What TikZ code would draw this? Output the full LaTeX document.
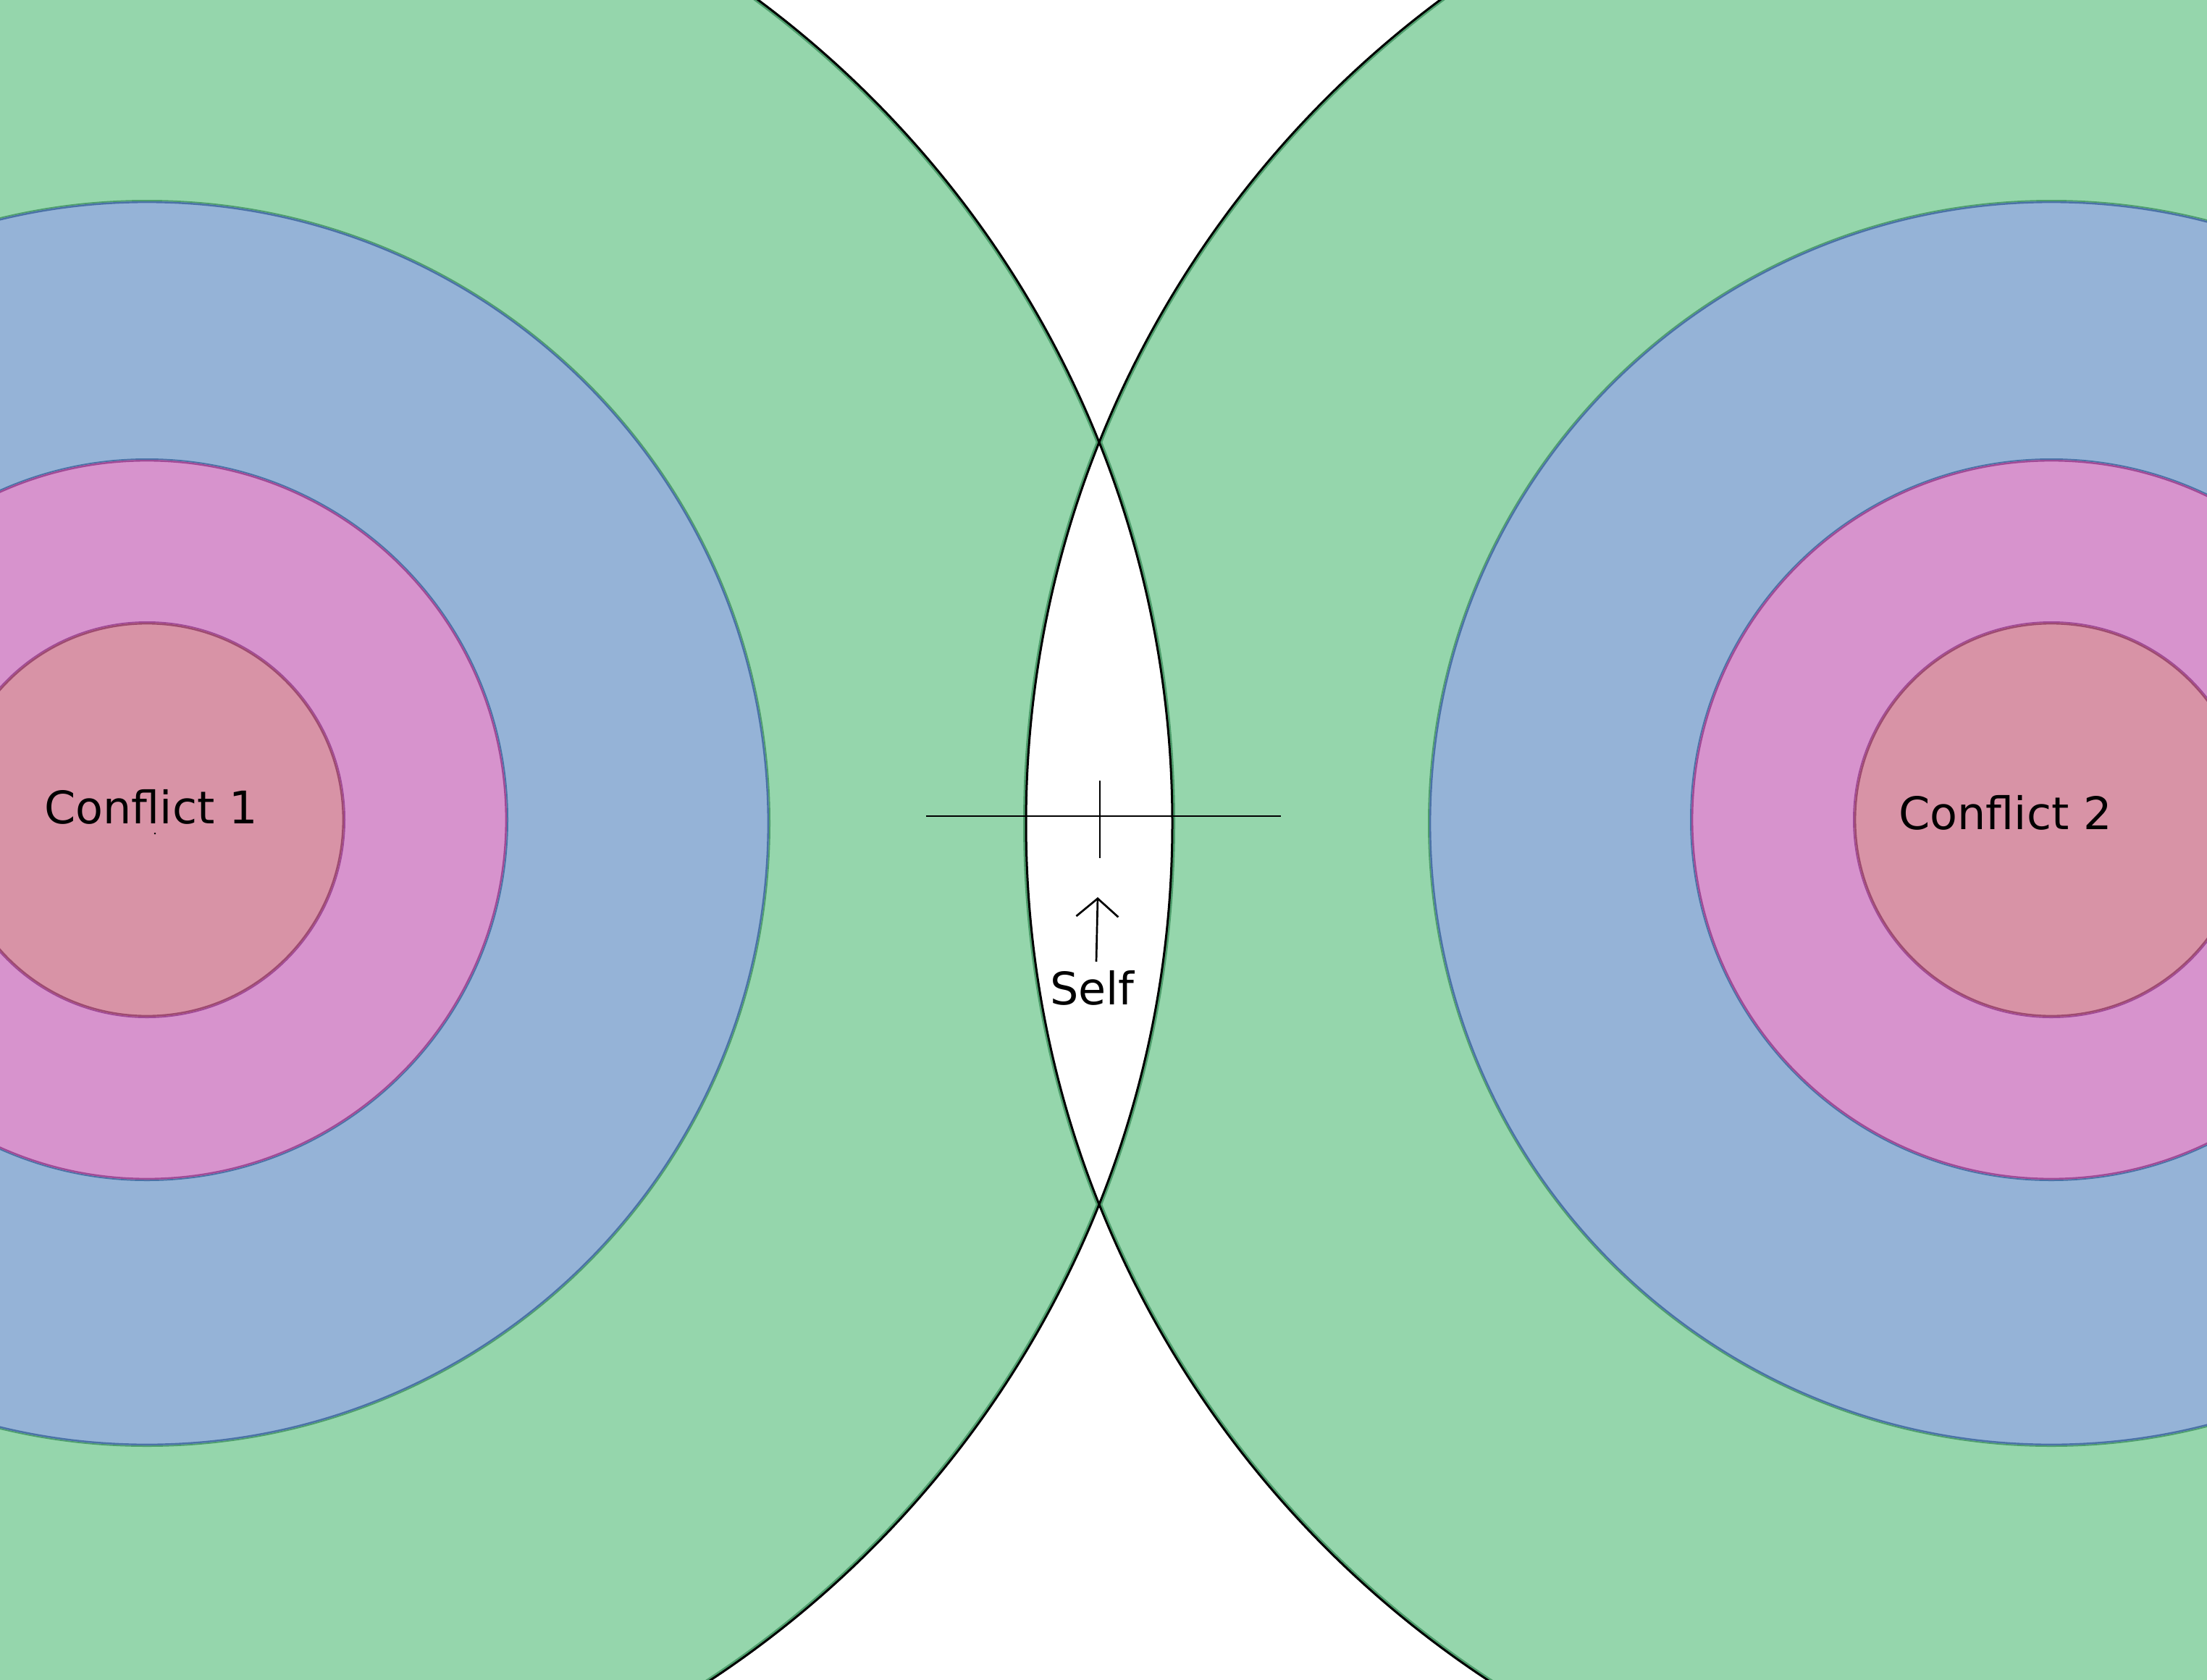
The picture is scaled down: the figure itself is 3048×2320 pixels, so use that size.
\documentclass[tikz,border=0pt]{standalone}
\usepackage{fontspec}
\setmainfont{DejaVu Sans}
\usetikzlibrary{arrows.meta}
\definecolor{gfill}{HTML}{95D6AC}
\definecolor{gdark}{HTML}{4E9E6C}
\definecolor{bfill}{HTML}{95B3D7}
\definecolor{bdark}{HTML}{4A72A6}
\definecolor{pfill}{HTML}{D793CD}
\definecolor{pdark}{HTML}{A04A96}
\definecolor{rfill}{HTML}{D893A6}
\definecolor{rdark}{HTML}{9E4A70}
\tikzset{
  label text/.style={anchor=base west, inner sep=0pt, font=\fontsize{62}{70}\selectfont},
  thin line/.style={line width=2.7pt, black},
}
\begin{document}
\begin{tikzpicture}[x=1pt,y=-1pt]
\useasboundingbox (0,0) rectangle (3048,2320);
\clip (0,0) rectangle (3048,2320);
\coordinate (L) at (203,1137);
\coordinate (R) at (2833,1137);
\coordinate (Li) at (203,1132);
\coordinate (Ri) at (2833,1132);
% green discs
\fill[gfill] (L) circle[radius=1416pt] (R) circle[radius=1416pt];
\begin{scope}
  \clip (L) circle[radius=1416pt] (R) circle[radius=1416pt];
  \draw[gdark, line width=8pt] (L) circle[radius=1416pt];
  \draw[gdark, line width=8pt] (R) circle[radius=1416pt];
\end{scope}
\begin{scope}
  \clip (L) circle[radius=1416pt];
  \fill[white] (R) circle[radius=1416pt];
\end{scope}
\draw[black, line width=3pt] (L) circle[radius=1416pt];
\draw[black, line width=3pt] (R) circle[radius=1416pt];
% inner rings
\foreach \c/\ci in {L/Li,R/Ri}{
  \draw[gdark, line width=4pt] (\c) circle[radius=859pt];
  \fill[bfill] (\c) circle[radius=859pt];
  \draw[bdark, line width=2.4pt] (\c) circle[radius=857.8pt];
  \draw[bdark, line width=4pt] (\ci) circle[radius=497pt];
  \fill[pfill] (\ci) circle[radius=497pt];
  \draw[pdark, line width=2.4pt] (\ci) circle[radius=495.8pt];
  \draw[pdark, line width=4pt] (\ci) circle[radius=272pt];
  \fill[rfill] (\ci) circle[radius=272pt];
  \draw[rdark, line width=2.4pt] (\ci) circle[radius=270.8pt];
}
\fill[black] (214,1151) circle[radius=1.3pt];
% labels
\node[label text] (c1) at (61,1137) {Conflict 1};
\node[label text] (c2) at (2622,1145) {Conflict 2};
\node[label text] (self) at (1450,1387) {Self};
% cross at self
\coordinate (hl) at (1279,1127);
\coordinate (hr) at (1769,1127);
\coordinate (vt) at (1519,1078);
\coordinate (vb) at (1519,1185);
\draw[thin line] (hl) -- (hr);
\draw[thin line] (vt) -- (vb);
% arrow
\coordinate (abot) at (1514,1328);
\coordinate (atip) at (1516,1239);
\draw[thin line, -{Straight Barb[length=25pt,width=58pt,line width=2.7pt]}] (abot) -- (atip);
\end{tikzpicture}
\end{document}
